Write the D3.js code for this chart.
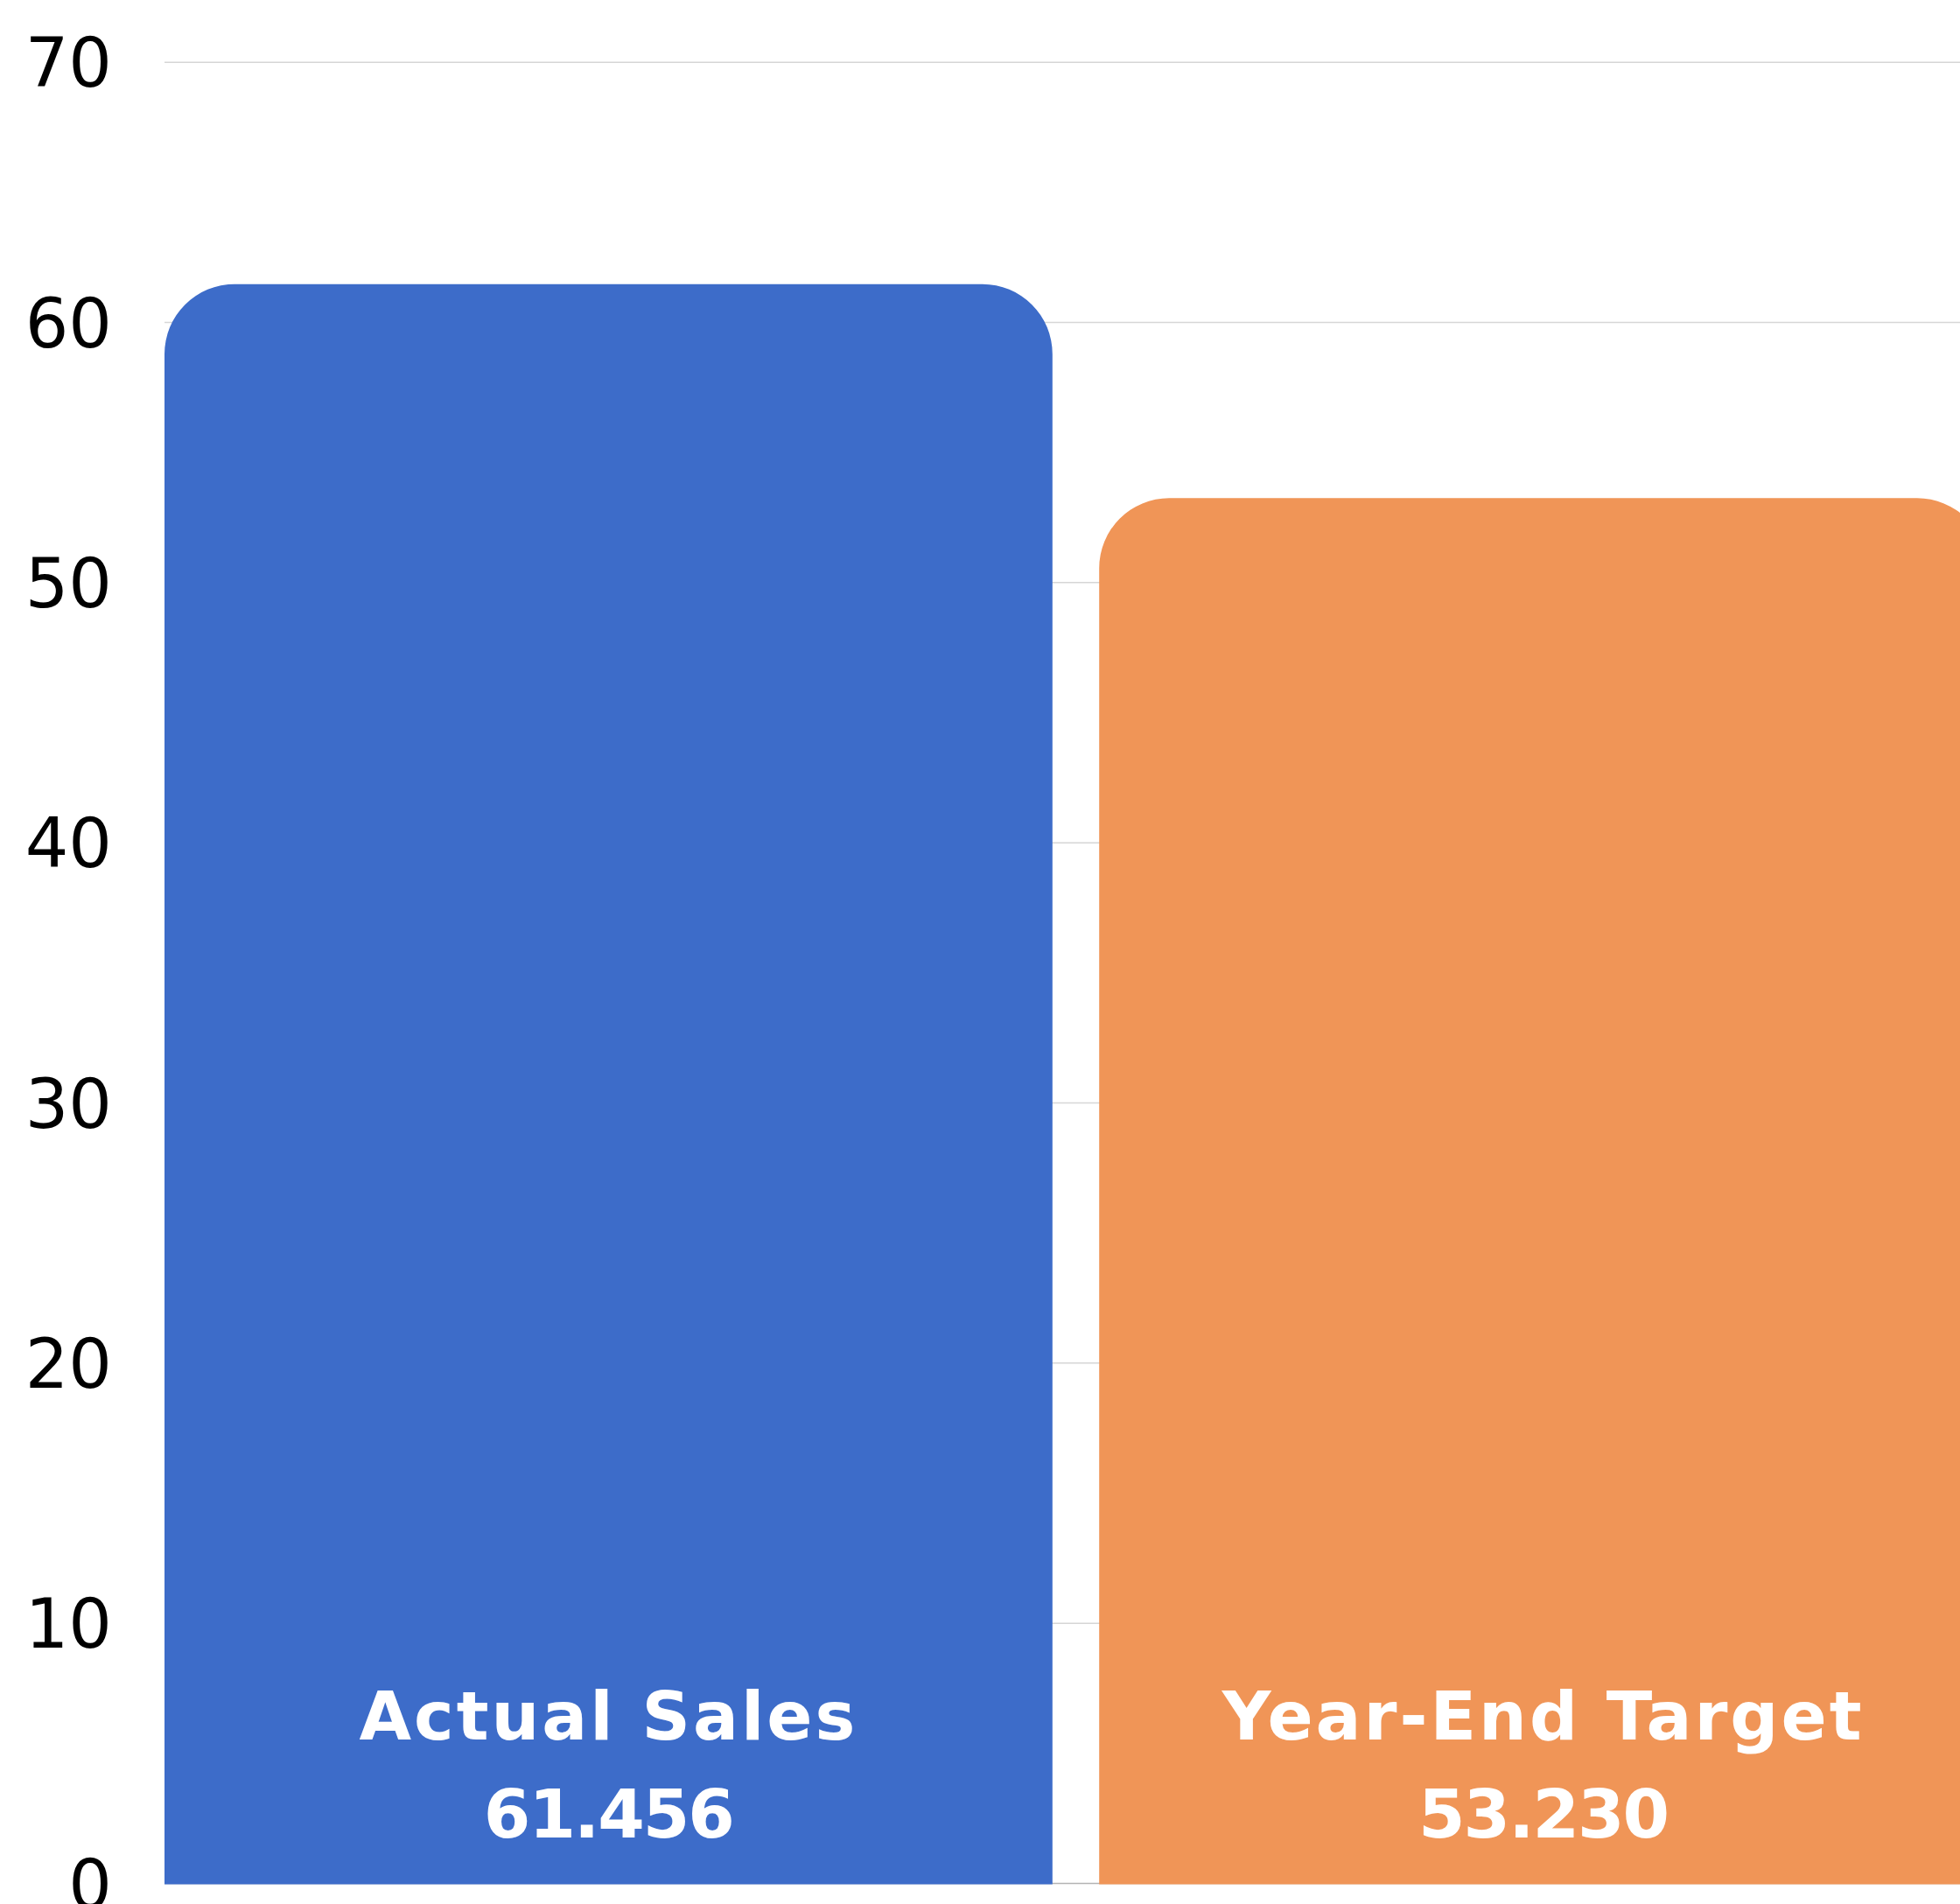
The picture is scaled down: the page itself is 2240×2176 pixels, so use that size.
<!DOCTYPE html>
<html>
<head>
<meta charset="utf-8">
<script src="https://cdn.jsdelivr.net/npm/d3@7"></script>
<style>
  html, body { margin:0; padding:0; background:#fff; }
  svg { display:block; }
</style>
</head>
<body>
<script>
var categories = ["Actual Sales", "Year-End Target"];
var values = [61.456, 53.230];
var barColors = ["#3d6cc9", "#f09557"];
var yTicks = [0, 10, 20, 30, 40, 50, 60, 70];

var chartConfig = {
    target:"body",
    dimensions:{ width:2240, height:2176 },
    margin:{ top:70.7, bottom:24, left:188, right:-31 },
    layout:{
        grid_color:"#d6d6d6",
        zero_color:"#b4b4b4",
        radius:80,
        font:"'DejaVu Sans', sans-serif"
    }
}

class BarChart{
    constructor(cfg){
        this.cfg = cfg;
        this.width = cfg.dimensions.width - cfg.margin.left - cfg.margin.right;
        this.height = cfg.dimensions.height - cfg.margin.top - cfg.margin.bottom;
        this.svg = d3.select(cfg.target).append("svg")
            .attr("width", cfg.dimensions.width)
            .attr("height", cfg.dimensions.height);
        this.g = this.svg.append("g")
            .attr("transform", "translate(" + cfg.margin.left + "," + cfg.margin.top + ")");

        this.x = d3.scaleBand().domain(categories).range([0, this.width])
            .paddingInner(0.05).paddingOuter(0);
        this.y = d3.scaleLinear().domain([0, 70]).range([this.height, 0]);
    }
    // bar with rounded top corners only
    barPath(x0, w, yTop, yBot, r){
        return "M" + x0 + "," + yBot +
            "L" + x0 + "," + (yTop + r) +
            "A" + r + "," + r + " 0 0 1 " + (x0 + r) + "," + yTop +
            "L" + (x0 + w - r) + "," + yTop +
            "A" + r + "," + r + " 0 0 1 " + (x0 + w) + "," + (yTop + r) +
            "L" + (x0 + w) + "," + yBot + "Z";
    }
    draw(){
        var a = this;
        var L = this.cfg.layout;

        // gridlines
        var yAxis = d3.axisLeft(this.y).tickValues(yTicks)
            .tickSize(-(this.cfg.dimensions.width - this.cfg.margin.left))
            .tickPadding(60)
            .tickFormat(d3.format("d"));
        var ga = this.g.append("g").call(yAxis);
        ga.select(".domain").remove();
        ga.selectAll(".tick line")
            .attr("stroke", function(d){ return d === 0 ? L.zero_color : L.grid_color; })
            .attr("stroke-width", 1.5);
        ga.selectAll(".tick text")
            .attr("fill", "#000")
            .style("font-family", L.font)
            .style("font-size", "78px")
            .attr("dy", "0.36em");

        // bars
        var bars = this.g.selectAll(".bar").data(categories).enter().append("g");
        bars.append("path")
            .attr("fill", function(d, i){ return barColors[i]; })
            .attr("d", function(d, i){
                return a.barPath(a.x(d), a.x.bandwidth(), a.y(values[i]), a.y(0) + 1.5, L.radius);
            });
        bars.append("text")
            .attr("x", function(d){ return a.x(d) + a.x.bandwidth() / 2; })
            .attr("y", this.y(0) - 163.5)
            .attr("text-anchor", "middle")
            .attr("fill", "#fff")
            .style("font-family", L.font)
            .style("font-weight", "bold")
            .style("font-size", "77px")
            .style("letter-spacing", "3px")
            .text(function(d){ return d; });
        bars.append("text")
            .attr("x", function(d){ return a.x(d) + a.x.bandwidth() / 2; })
            .attr("y", this.y(0) - 52)
            .attr("text-anchor", "middle")
            .attr("fill", "#fff")
            .style("font-family", L.font)
            .style("font-weight", "bold")
            .style("font-size", "77px")
            .style("letter-spacing", "-2px")
            .text(function(d, i){ return d3.format(".3f")(values[i]); });
        return this;
    }
}

new BarChart(chartConfig).draw();
</script>
</body>
</html>
